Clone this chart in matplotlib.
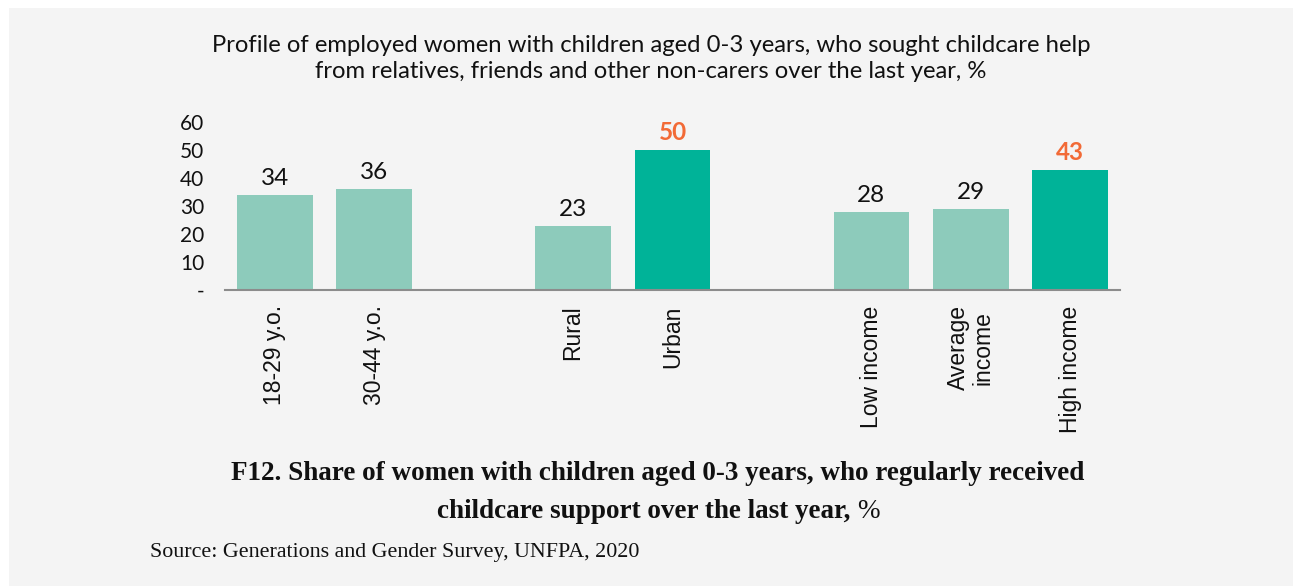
import matplotlib
matplotlib.use("Agg")
import matplotlib.pyplot as plt
from matplotlib.patches import Rectangle

# Data
categories = ["18-29 y.o.", "30-44 y.o.", "Rural", "Urban",
              "Low income", "Average\nincome", "High income"]
values = [34, 36, 23, 50, 28, 29, 43]
highlight = [False, False, False, True, False, False, True]
positions = [0, 1, 3, 4, 6, 7, 8]
y_ticks = [0, 10, 20, 30, 40, 50, 60]
y_tick_labels = ["-", "10", "20", "30", "40", "50", "60"]

LIGHT = "#8DCBBB"
DARK = "#00B398"
ORANGE = "#F26A36"
BG = "#F4F4F4"
INK = "#111111"

W, H = 1293, 586
fig = plt.figure(figsize=(W / 100, H / 100), dpi=100)
fig.patch.set_facecolor("white")
fig.patches.append(Rectangle((9 / W, 0), 1 - 9 / W, 1 - 8 / H,
                             transform=fig.transFigure, facecolor=BG,
                             edgecolor="none", zorder=-10))

ax = fig.add_axes([225 / W, 1 - 290 / H, (1120 - 225) / W, (290 - 122) / H])
ax.set_facecolor("none")

colors = [DARK if h else LIGHT for h in highlight]
bars = ax.bar(positions, values, width=0.76, color=colors, zorder=2)

for b, v, h in zip(bars, values, highlight):
    ax.annotate(str(v), (b.get_x() + b.get_width() / 2, v),
                xytext=(0, 7), textcoords="offset points",
                ha="center", va="baseline",
                fontsize=17.5, family="Lato",
                fontweight="bold" if h else "normal",
                color=ORANGE if h else INK)

ax.set_xlim(-0.5, 8.5)
ax.set_ylim(0, 60)
ax.set_yticks(y_ticks)
ax.set_yticklabels(y_tick_labels, family="Lato", fontsize=15, color=INK)
ax.set_xticks(positions)
ax.set_xticklabels(categories, rotation=90, family="Liberation Sans",
                   fontsize=16.5, color=INK, ha="center", va="top",
                   linespacing=1.1)
ax.tick_params(axis="both", length=0)
ax.tick_params(axis="y", pad=15)
ax.tick_params(axis="x", pad=11)

for s in ["top", "right", "left"]:
    ax.spines[s].set_visible(False)
ax.spines["bottom"].set_color("#8C8C8C")
ax.spines["bottom"].set_linewidth(1.5)
ax.spines["bottom"].set_zorder(3)

title_kw = dict(ha="center", va="baseline", family="Lato", fontsize=17.2, color=INK)
fig.text(651 / W, 1 - 52 / H,
         "Profile of employed women with children aged 0-3 years, who sought childcare help",
         **title_kw)
fig.text(651 / W, 1 - 78 / H,
         "from relatives, friends and other non-carers over the last year, %",
         **title_kw)

# Caption: bold serif, with a regular-weight "%" at the end of the second line
cap_kw = dict(va="center", family="Liberation Serif", fontsize=19.5, color=INK)
fig.text(658 / W, 1 - 474 / H,
         "F12. Share of women with children aged 0-3 years, who regularly received",
         ha="center", fontweight="bold", **cap_kw)

renderer = fig.canvas.get_renderer()
part_a = fig.text(0, 1 - 511 / H, "childcare support over the last year, ",
                  ha="left", fontweight="bold", **cap_kw)
part_b = fig.text(0, 1 - 511 / H, "%", ha="left", fontweight="normal", **cap_kw)
wa = part_a.get_window_extent(renderer).width
wb = part_b.get_window_extent(renderer).width
x0 = 658 - (wa + wb) / 2
part_a.set_x(x0 / W)
part_b.set_x((x0 + wa) / W)

fig.text(150 / W, 1 - 553 / H,
         "Source: Generations and Gender Survey, UNFPA, 2020",
         ha="left", va="center", family="Liberation Serif",
         fontsize=15.8, color=INK)

fig.savefig("out.png", dpi=100, facecolor=fig.get_facecolor())
